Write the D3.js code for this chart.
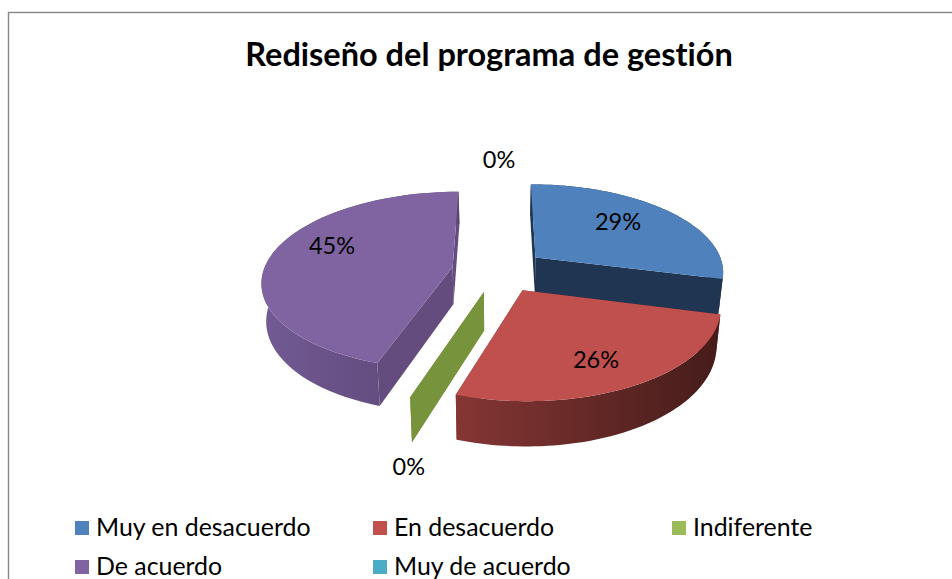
<!DOCTYPE html>
<html><head><meta charset="utf-8">
<script src="https://cdn.jsdelivr.net/npm/d3@7/dist/d3.min.js"></script>
<style>html,body{margin:0;padding:0;background:#fff}svg{display:block}text{font-family:Lato,"Open Sans",sans-serif;fill:#000;font-variant-ligatures:none}</style>
</head><body><div id="chart"></div>
<script>
const title = "Rediseño del programa de gestión";
const categories = ["Muy en desacuerdo","En desacuerdo","Indiferente","De acuerdo","Muy de acuerdo"];
const values = [29,26,0,45,0];
const topColors = ["#4F81BD","#C0504D","#77933C","#8064A2","#4BACC6"];
const legendColors = ["#4F81BD","#C0504D","#9BBB59","#8064A2","#4BACC6"];
const sideColors = ["#1F3552","#7F3432","#77933C","#644D7E","#2F6E80"];
const sideDarkColors = ["#1F3552","#451C1A","#77933C","#5A4472","#2F6E80"];
const sideLightColors = ["#1F3552","#853634","#77933C","#725A94","#2F6E80"];
const labelAngleDeg = [47.7,154.2,190.9,289.3,360];
const labelRadius = [0.66,0.745,1.476,0.713,1.297];
const paintOrder = [0,3,2,4,1];

const W=952,H=579;
const svg=d3.select("#chart").append("svg").attr("width",W).attr("height",H);
const defs=svg.append("defs");

// projection of the tilted disc
const cx=499,cy=270.5,R=189,kR=87.6,p=0.15,depth=37,explode=0.25,floorScale=0.98;
const proj=(x,z,low)=>{
  const s=1/(1-p*z);
  let X=x*R*s,Y=z*kR*s;
  if(low){X*=floorScale;Y+=depth*s;}
  return [cx+X,cy+Y];
};
const arcs=d3.pie().value(d=>d).sort(null).startAngle(0).endAngle(2*Math.PI)(values);
const line=d3.line();

// frame
svg.append("rect").attr("x",8.5).attr("y",12.5).attr("width",W+20).attr("height",H+20)
   .attr("fill","#fff").attr("stroke","#868686").attr("stroke-width",1.4);

svg.append("text").attr("x",489).attr("y",66).attr("text-anchor","middle")
   .attr("font-size",32.5).attr("font-weight",700).text(title);

const slices=paintOrder.map(i=>{
  const a=arcs[i],mid=(a.startAngle+a.endAngle)/2;
  return {i,a0:a.startAngle,a1:a.endAngle,ox:explode*Math.sin(mid),oz:-explode*Math.cos(mid),v:values[i]};
});
const pt=(d,ang,low)=>proj(d.ox+Math.sin(ang),d.oz-Math.cos(ang),low);
const apex=(d,low)=>proj(d.ox,d.oz,low);
const arcPts=(d,low)=>d3.range(0,61).map(j=>pt(d,d.a0+(d.a1-d.a0)*j/60,low));

const g=svg.append("g");
slices.forEach(d=>{
  const gid="side"+d.i;
  const outer=arcPts(d,false),bottom=arcPts(d,true);
  const xs=outer.map(q=>q[0]);
  const lg=defs.append("linearGradient").attr("id",gid).attr("gradientUnits","userSpaceOnUse")
     .attr("x1",d3.min(xs)).attr("x2",d3.max(xs)).attr("y1",0).attr("y2",0);
  lg.append("stop").attr("offset",0).attr("stop-color",sideLightColors[d.i]);
  lg.append("stop").attr("offset",1).attr("stop-color",sideDarkColors[d.i]);
  // cut faces
  [d.a0,d.a1].forEach(ang=>{
    g.append("path").attr("d",line([apex(d,false),pt(d,ang,false),pt(d,ang,true),apex(d,true)])+"Z")
     .attr("fill",sideColors[d.i]);
  });
  if(d.v>0){
    g.append("path").attr("d",line(outer.concat(bottom.slice().reverse()))+"Z").attr("fill",`url(#${gid})`);
    g.append("path").attr("d",line([apex(d,false)].concat(outer))+"Z").attr("fill",topColors[d.i]);
  }
});

// data labels
const fmt=d3.format(".0%");
const total=d3.sum(values);
values.forEach((v,i)=>{
  const a=labelAngleDeg[i]*Math.PI/180,r=labelRadius[i];
  const arc=arcs[i],mid=(arc.startAngle+arc.endAngle)/2;
  const q=proj(explode*Math.sin(mid)+r*Math.sin(a),-explode*Math.cos(mid)-r*Math.cos(a),false);
  svg.append("text").attr("x",q[0]).attr("y",q[1]).attr("dy","0.3em").attr("text-anchor","middle")
     .attr("font-size",23.5).text(fmt(v/total));
});

// legend
const colX=[75,373,672], rowY=[521,560], swatch=14;
categories.forEach((c,i)=>{
  const col=i%3,row=Math.floor(i/3);
  svg.append("rect").attr("x",colX[col]).attr("y",rowY[row]).attr("width",swatch).attr("height",swatch).attr("fill",legendColors[i]);
  svg.append("text").attr("x",colX[col]+21).attr("y",rowY[row]+15).attr("font-size",24.9).text(c);
});
</script></body></html>
